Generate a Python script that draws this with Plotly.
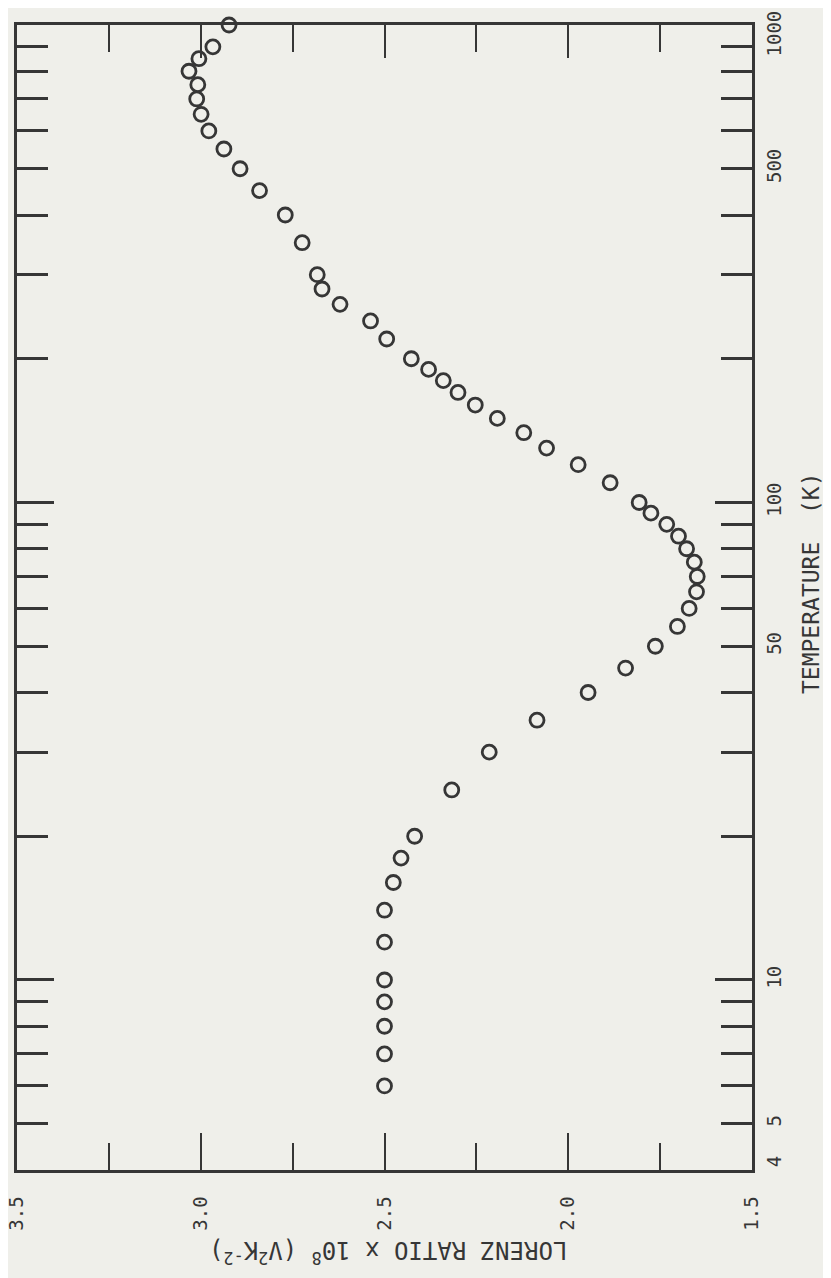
import plotly.graph_objects as go
import math

# Data (temperature in K, Lorenz ratio x 1e8 in V^2 K^-2)
temperature = [6, 7, 8, 9, 10, 12, 14, 16, 18, 20, 25, 30, 35, 40, 45, 50, 55, 60, 65, 70,
               75, 80, 85, 90, 95, 100, 110, 120, 130, 140, 150, 160, 170, 180, 190, 200,
               220, 240, 260, 280, 300, 350, 400, 450, 500, 550, 600, 650, 700, 750, 800,
               850, 900, 1000]
lorenz = [2.50, 2.50, 2.50, 2.50, 2.50, 2.50, 2.50, 2.476, 2.455, 2.418, 2.317, 2.215,
          2.085, 1.946, 1.844, 1.763, 1.703, 1.671, 1.651, 1.649, 1.657, 1.678, 1.700,
          1.732, 1.775, 1.807, 1.886, 1.973, 2.059, 2.121, 2.193, 2.253, 2.300, 2.340,
          2.380, 2.427, 2.494, 2.538, 2.621, 2.670, 2.683, 2.724, 2.770, 2.840, 2.893,
          2.937, 2.978, 2.999, 3.011, 3.008, 3.032, 3.005, 2.967, 2.923]

t_major = [10, 100, 1000]
t_minor = [5, 6, 7, 8, 9, 20, 30, 40, 50, 60, 70, 80, 90, 200, 300, 400, 500, 600, 700, 800, 900]
t_label_vals = [4, 5, 10, 50, 100, 500, 1000]
t_label_text = ["\u00a04", "5", "10", "50", "100", "500", "1000\u00a0\u00a0"]
l_range = [3.5, 1.5]
t_range = [4, 1000]

INK = "#363636"
BG = "#efefea"
FONT = "DejaVu Sans Mono"

fig = go.Figure()
fig.add_trace(go.Scatter(
    x=lorenz, y=temperature, mode="markers",
    marker=dict(symbol="circle-open", size=14, color=INK, line=dict(width=2.8, color=INK)),
    cliponaxis=False, showlegend=False, hoverinfo="x+y"))
# invisible helper traces so the overlay axes render
for xa, ya in [("x2", "y"), ("x", "y2"), ("x", "y3")]:
    fig.add_trace(go.Scatter(x=lorenz, y=temperature, mode="markers", xaxis=xa, yaxis=ya,
                             marker=dict(opacity=0), showlegend=False, hoverinfo="skip"))

logr = [math.log10(t_range[0]), math.log10(t_range[1])]
logr_pad = [logr[0] - 1e-6, logr[1] + 1e-6]

common_t = dict(type="log", showgrid=False, zeroline=False, automargin=False)
common_l = dict(range=l_range, showgrid=False, zeroline=False, automargin=False)

fig.update_layout(
    width=831, height=1278,
    margin=dict(l=9, r=87, t=17, b=116, autoexpand=False),
    paper_bgcolor=BG, plot_bgcolor=BG,
    font=dict(family=FONT, color=INK, size=20),
    xaxis=dict(**common_l, side="bottom", anchor="y",
               tickmode="linear", tick0=1.5, dtick=0.5, tickformat=".1f",
               ticks="inside", ticklen=37, tickwidth=2, tickcolor=INK,
               minor=dict(tickmode="linear", tick0=1.5, dtick=0.25, ticks="inside",
                          ticklen=27, tickwidth=2, tickcolor=INK),
               showline=True, linewidth=2.5, linecolor=INK, mirror=True,
               tickangle=-90, ticklabelstandoff=16, ticklabeloverflow="allow",
               tickfont=dict(family=FONT, size=19, color=INK)),
    xaxis2=dict(**common_l, side="top", overlaying="x", anchor="y",
                tickmode="linear", tick0=1.5, dtick=0.5,
                ticks="inside", ticklen=33, tickwidth=2, tickcolor=INK,
                minor=dict(tickmode="linear", tick0=1.5, dtick=0.25, ticks="inside",
                           ticklen=27, tickwidth=2, tickcolor=INK),
                showline=False, showticklabels=False),
    yaxis=dict(**common_t, range=logr, side="right", anchor="x",
               tickmode="array", tickvals=t_major,
               ticks="inside", ticklen=37, tickwidth=2.5, tickcolor=INK,
               minor=dict(tickmode="array", tickvals=t_minor, ticks="inside",
                          ticklen=31, tickwidth=2.5, tickcolor=INK),
               showline=True, linewidth=2.5, linecolor=INK, mirror=True,
               showticklabels=False),
    yaxis2=dict(**common_t, range=logr, side="left", overlaying="y", anchor="x",
                tickmode="array", tickvals=t_major,
                ticks="inside", ticklen=37, tickwidth=2.5, tickcolor=INK,
                minor=dict(tickmode="array", tickvals=t_minor, ticks="inside",
                           ticklen=31, tickwidth=2.5, tickcolor=INK),
                showline=False, showticklabels=False),
    yaxis3=dict(**common_t, range=logr_pad, side="right", overlaying="y", anchor="x",
                tickmode="array", tickvals=t_label_vals, ticktext=t_label_text,
                ticks="", showline=False, showticklabels=True,
                tickangle=-90, ticklabelstandoff=9, ticklabeloverflow="allow",
                tickfont=dict(family=FONT, size=19, color=INK)),
)

fig.add_annotation(text="TEMPERATURE\u00a0\u00a0(K)", xref="paper", yref="paper",
                   x=1.0795, y=0.513, xanchor="center", yanchor="middle",
                   showarrow=False, textangle=-90,
                   font=dict(family=FONT, size=23, color=INK))
fig.add_annotation(text="LORENZ RATIO x 10<sup>8</sup> (V<sup>2</sup>K<sup>-2</sup>)",
                   xref="paper", yref="paper", x=0.505, y=-0.0716,
                   xanchor="center", yanchor="middle", showarrow=False,
                   textangle=180, font=dict(family=FONT, size=24, color=INK))

fig.write_html("out.html")
